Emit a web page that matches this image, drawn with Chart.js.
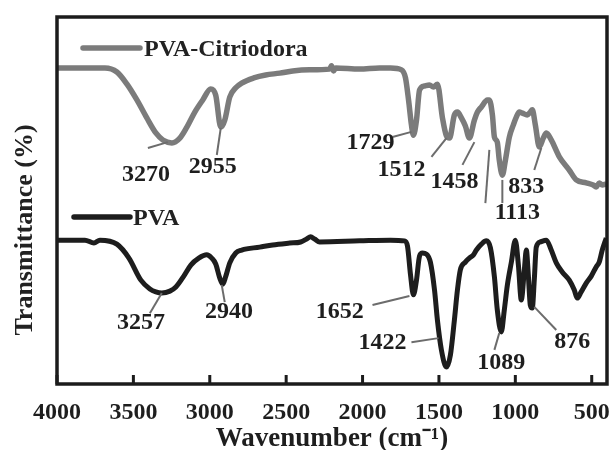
<!DOCTYPE html>
<html>
<head>
<meta charset="utf-8">
<script src="https://cdn.jsdelivr.net/npm/chart.js@4.4.1/dist/chart.umd.min.js"></script>
<style>
  html, body { margin: 0; padding: 0; background: #fff; }
</style>
</head>
<body>
<canvas id="ftir" width="612" height="450"></canvas>
<script>
// FTIR spectra: wavenumber (cm-1) / transmittance (arb. units)
const citWavenumber = [4000, 3850, 3686, 3608, 3542, 3477, 3412, 3353, 3307, 3248, 3196, 3150, 3098, 3046, 2994,
  2961, 2928, 2902, 2869, 2830, 2791, 2712, 2634, 2542, 2457, 2346, 2216, 2203, 2190, 2176, 2020, 1889, 1817,
  1745, 1719, 1699, 1680, 1667, 1647, 1627, 1595, 1562, 1536, 1510, 1477, 1451, 1431, 1399, 1379, 1353, 1327,
  1301, 1268, 1248, 1222, 1183, 1170, 1150, 1137, 1118, 1105, 1085, 1065, 1039, 1013, 993, 974, 954, 922, 902,
  889, 869, 843, 817, 797, 765, 712, 647, 601, 536, 490, 471, 451, 431, 405];
const citTransmittance = [86.1, 86.1, 86.1, 85.0, 81.7, 77.4, 72.5, 68.4, 66.5, 65.7, 67.0, 70.0, 74.1, 77.4, 80.4,
  78.7, 70.0, 71.9, 78.2, 80.7, 82.0, 83.4, 84.2, 84.7, 85.3, 85.6, 85.8, 86.7, 85.3, 86.1, 85.8, 86.1, 86.1,
  85.6, 83.4, 77.4, 70.6, 67.8, 71.9, 80.1, 81.2, 81.5, 80.9, 81.7, 72.5, 67.6, 67.0, 73.3, 74.1, 72.5, 70.3,
  67.0, 71.9, 74.1, 75.5, 77.4, 77.4, 73.3, 67.3, 65.9, 61.0, 56.9, 61.0, 67.3, 70.6, 72.8, 74.1, 73.8, 73.3, 74.1,
  74.7, 70.6, 64.6, 67.0, 68.4, 66.5, 61.9, 58.3, 55.6, 54.8, 54.2, 53.7, 54.8, 54.2, 54.5];

const pvaWavenumber = [4000, 3817, 3758, 3719, 3608, 3529, 3451, 3392, 3353, 3314, 3261, 3222, 3170, 3124, 3072,
  3020, 2987, 2961, 2935, 2915, 2895, 2869, 2830, 2791, 2673, 2588, 2477, 2405, 2366, 2340, 2314, 2281, 2020,
  1817, 1725, 1706, 1686, 1667, 1647, 1627, 1608, 1582, 1556, 1529, 1510, 1484, 1451, 1425, 1399, 1379, 1360,
  1327, 1301, 1274, 1255, 1222, 1190, 1163, 1137, 1118, 1092, 1072, 1052, 1026, 1000, 980, 961, 941, 928, 915,
  902, 889, 876, 863, 837, 797, 765, 732, 693, 647, 614, 595, 569, 536, 503, 471, 451, 431, 405];
const pvaTransmittance = [39.2, 39.2, 38.4, 39.2, 38.1, 34.3, 28.3, 25.9, 25.1, 24.8, 25.3, 26.4, 29.4, 32.4, 34.3,
  35.2, 34.3, 32.7, 28.9, 27.2, 29.4, 33.0, 35.7, 36.5, 37.3, 37.9, 38.4, 38.7, 39.5, 40.1, 39.5, 38.7, 39.0,
  39.2, 39.0, 37.6, 29.7, 24.3, 28.3, 34.9, 35.7, 35.4, 33.2, 25.6, 17.4, 9.3, 4.6, 7.9, 17.4, 25.6, 31.1,
  33.2, 34.3, 35.2, 36.5, 38.1, 39.0, 37.1, 29.2, 20.2, 14.2, 20.2, 27.0, 33.2, 39.2, 32.4, 22.9, 31.1, 36.5, 29.7,
  21.5, 20.7, 28.3, 37.3, 38.7, 39.2, 36.5, 33.0, 30.5, 28.3, 25.6, 23.4, 25.1, 27.5, 29.4, 31.9, 33.2, 36.5, 39.8];

const xTicks = [500, 1000, 1500, 2000, 2500, 3000, 3500, 4000];

const citPeaks = ['3270', '2955', '1729', '1512', '1458', '1113', '833'];
const pvaPeaks = ['3257', '2940', '1652', '1422', '1089', '876'];

// label placement in axis units: [text wn, text T, leaders [[wn1, T1, wn2, T2], ...]]
const citPeakLayout = [
  [3418, 57.0, [[3405, 64.3, 3275, 65.9]]],
  [2980, 59.1, [[2954, 62.4, 2928, 69.8]]],
  [1948, 65.7, [[1804, 67.3, 1680, 68.7]]],
  [1745, 58.3, [[1549, 61.9, 1451, 67.0]]],
  [1399, 55.0, [[1346, 59.7, 1268, 65.9]]],
  [987, 46.6, [[1196, 49.3, 1170, 63.8], [1085, 55.6, 1085, 49.3]]],
  [928, 53.7, [[876, 58.3, 830, 64.3]]]
];
const pvaPeakLayout = [
  [3451, 16.6, [[3392, 19.3, 3314, 24.8]]],
  [2875, 19.6, [[2902, 22.3, 2922, 27.0]]],
  [2150, 19.6, [[1935, 21.5, 1693, 24.0]]],
  [1869, 11.2, [[1680, 11.4, 1503, 12.5]]],
  [1092, 5.7, [[1137, 9.3, 1105, 13.9]]],
  [627, 11.4, [[732, 14.7, 876, 21.0]]]
];

const serif = "'Liberation Serif', 'Times New Roman', serif";
const legendSpots = [
  { x0: 83, x1: 140, y: 48, tx: 144, ty: 50 },
  { x0: 74, x1: 130, y: 217, tx: 133, ty: 219 }
];

const toPoints = (xs, ys) => xs.map((v, i) => ({ x: v, y: ys[i] }));

const decor = {
  id: 'decor',
  afterDatasetsDraw(chart) {
    const { ctx, chartArea: a, scales: { x, y } } = chart;
    ctx.save();

    const peaks = (labels, layout) => {
      labels.forEach((txt, i) => {
        const [tx, ty, leaders] = layout[i];
        ctx.strokeStyle = '#6c6c6c';
        ctx.lineWidth = 2;
        leaders.forEach(([x1, y1, x2, y2]) => {
          ctx.beginPath();
          ctx.moveTo(x.getPixelForValue(x1), y.getPixelForValue(y1));
          ctx.lineTo(x.getPixelForValue(x2), y.getPixelForValue(y2));
          ctx.stroke();
        });
        ctx.fillStyle = '#1e1e1e';
        ctx.font = 'bold 24px ' + serif;
        ctx.textAlign = 'center';
        ctx.textBaseline = 'middle';
        ctx.fillText(txt, x.getPixelForValue(tx), y.getPixelForValue(ty));
      });
    };
    peaks(citPeaks, citPeakLayout);
    peaks(pvaPeaks, pvaPeakLayout);

    // frame + inward ticks
    ctx.strokeStyle = '#1c1c1c';
    ctx.lineWidth = 3.5;
    ctx.strokeRect(a.left, a.top, a.right - a.left, a.bottom - a.top);
    ctx.lineWidth = 3;
    x.ticks.forEach(t => {
      const px = x.getPixelForValue(t.value);
      ctx.beginPath();
      ctx.moveTo(px, a.bottom);
      ctx.lineTo(px, a.bottom - 9);
      ctx.stroke();
    });

    // legend
    chart.data.datasets.forEach((ds, i) => {
      const s = legendSpots[i];
      ctx.strokeStyle = ds.borderColor;
      ctx.lineWidth = 5.5;
      ctx.lineCap = 'round';
      ctx.beginPath();
      ctx.moveTo(s.x0, s.y);
      ctx.lineTo(s.x1, s.y);
      ctx.stroke();
      ctx.fillStyle = '#222';
      ctx.font = 'bold 24px ' + serif;
      ctx.textAlign = 'left';
      ctx.textBaseline = 'middle';
      ctx.fillText(ds.label, s.tx, s.ty);
    });

    // y title
    ctx.translate(25, 230);
    ctx.rotate(-Math.PI / 2);
    ctx.fillStyle = '#222';
    ctx.font = 'bold 26px ' + serif;
    ctx.textAlign = 'center';
    ctx.fillText('Transmittance (%)', 0, 0);
    ctx.restore();
  }
};

new Chart(document.getElementById('ftir'), {
  type: 'line',
  data: {
    datasets: [
      {
        label: 'PVA-Citriodora',
        data: toPoints(citWavenumber, citTransmittance),
        borderColor: '#7b7b7b',
        borderWidth: 5.5,
        pointRadius: 0,
        cubicInterpolationMode: 'monotone'
      },
      {
        label: 'PVA',
        data: toPoints(pvaWavenumber, pvaTransmittance),
        borderColor: '#1d1d1d',
        borderWidth: 5,
        pointRadius: 0,
        cubicInterpolationMode: 'monotone'
      }
    ]
  },
  options: {
    responsive: false,
    animation: false,
    layout: { padding: { top: 17, right: 5, left: 57, bottom: 0 } },
    plugins: { legend: { display: false }, tooltip: { enabled: false } },
    scales: {
      x: {
        type: 'linear',
        reverse: true,
        min: 400,
        max: 4000,
        afterBuildTicks: s => { s.ticks = xTicks.map(v => ({ value: v })); },
        afterFit: s => { s.height = 66; },
        grid: { display: false },
        border: { display: false },
        ticks: {
          padding: 6,
          color: '#1e1e1e',
          font: { family: serif, size: 24, weight: 'bold' },
          callback: v => String(v)
        },
        title: {
          display: true,
          text: 'Wavenumber (cm\u207B\u00B9)',
          color: '#1e1e1e',
          font: { family: serif, size: 27, weight: 'bold', lineHeight: 0.8 },
          padding: { top: 0, bottom: 0 }
        }
      },
      y: {
        display: false,
        min: 0,
        max: 100
      }
    }
  },
  plugins: [decor]
});
</script>
</body>
</html>
